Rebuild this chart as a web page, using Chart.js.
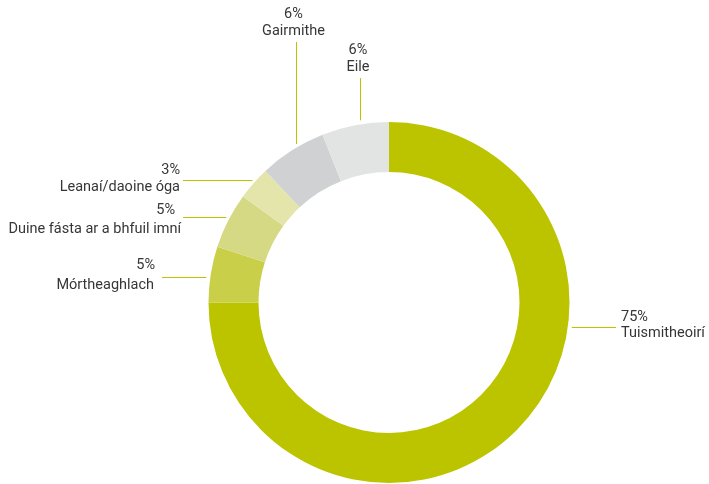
<!DOCTYPE html>
<html>
<head>
<meta charset="utf-8">
<script src="https://cdn.jsdelivr.net/npm/chart.js@4/dist/chart.umd.min.js"></script>
<style>
  html, body { margin: 0; padding: 0; background: #fff; }
  #wrap { width: 709px; height: 484px; position: relative; }
</style>
</head>
<body>
<div id="wrap"><canvas id="chart"></canvas></div>
<script>
// Slices run clockwise from 12 o'clock.
const categories = ["Tuismitheoirí", "Mórtheaghlach", "Duine fásta ar a bhfuil imní", "Leanaí/daoine óga", "Gairmithe", "Eile"];
const shares = [75, 5, 5, 3, 6, 6];
const sliceColors = ["#bcc400", "#cacf4a", "#d6d983", "#e3e5ab", "#d0d1d3", "#e2e3e3"];

const INK = "#363636";
const LEADER = "#bcc400";
const FONT = '14.5px Roboto, sans-serif';

// Callout layout, offsets from the doughnut centre.
// side: which way the leader runs; at: its fixed coordinate (y for left/right, x for top);
// end: where the leader stops near the text; value/name: text anchors [x, y].
const callouts = [
  { side: "right", at: 24.5,   end: 227,    align: "left",   value: [232, 15],      name: [232, 31] },
  { side: "left",  at: -25.5,  end: -227,   align: "right",  value: [-234, -37],    name: [-235, -17] },
  { side: "left",  at: -86,    end: -206,   align: "right",  value: [-214, -92],    name: [-208, -73] },
  { side: "left",  at: -122.5, end: -206,   align: "right",  value: [-209, -132],   name: [-209, -115] },
  { side: "top",   at: -93.3,  end: -260.5, align: "center", value: [-95.5, -288],  name: [-95.5, -271] },
  { side: "top",   at: -29,    end: -224.5, align: "center", value: [-31, -252],    name: [-31, -235] },
];

const calloutPlugin = {
  id: "callouts",
  afterDraw(chart) {
    const arc = chart.getDatasetMeta(0).data[0];
    const cx = arc.x, cy = arc.y, R = arc.outerRadius;
    const gap = 4;
    const ctx = chart.ctx;
    ctx.save();
    ctx.strokeStyle = LEADER;
    ctx.lineWidth = 1;
    ctx.font = FONT;
    ctx.fillStyle = INK;
    ctx.textBaseline = "middle";
    callouts.forEach((c, i) => {
      ctx.beginPath();
      if (c.side === "top") {
        const x = Math.round(cx + c.at) + 0.5;
        const yRing = cy - Math.sqrt(R * R - c.at * c.at) - gap;
        ctx.moveTo(x, cy + c.end);
        ctx.lineTo(x, yRing);
      } else {
        const y = Math.round(cy + c.at) + 0.5;
        const half = Math.sqrt(R * R - c.at * c.at) + gap;
        const xRing = c.side === "right" ? cx + half : cx - half;
        ctx.moveTo(xRing, y);
        ctx.lineTo(cx + c.end, y);
      }
      ctx.stroke();
      ctx.textAlign = c.align;
      ctx.fillText(shares[i] + "%", cx + c.value[0], cy + c.value[1]);
      ctx.fillText(categories[i], cx + c.name[0], cy + c.name[1]);
    });
    ctx.restore();
  },
};

new Chart(document.getElementById("chart"), {
  type: "doughnut",
  data: {
    labels: categories,
    datasets: [{
      data: shares,
      backgroundColor: sliceColors,
      borderWidth: 0,
      hoverOffset: 0,
    }],
  },
  options: {
    responsive: true,
    maintainAspectRatio: false,
    animation: false,
    cutout: 130.5,
    layout: { padding: { top: 122, bottom: 1, left: 208.5, right: 139.5 } },
    plugins: {
      legend: { display: false },
      tooltip: { enabled: false },
    },
  },
  plugins: [calloutPlugin],
});
</script>
</body>
</html>
